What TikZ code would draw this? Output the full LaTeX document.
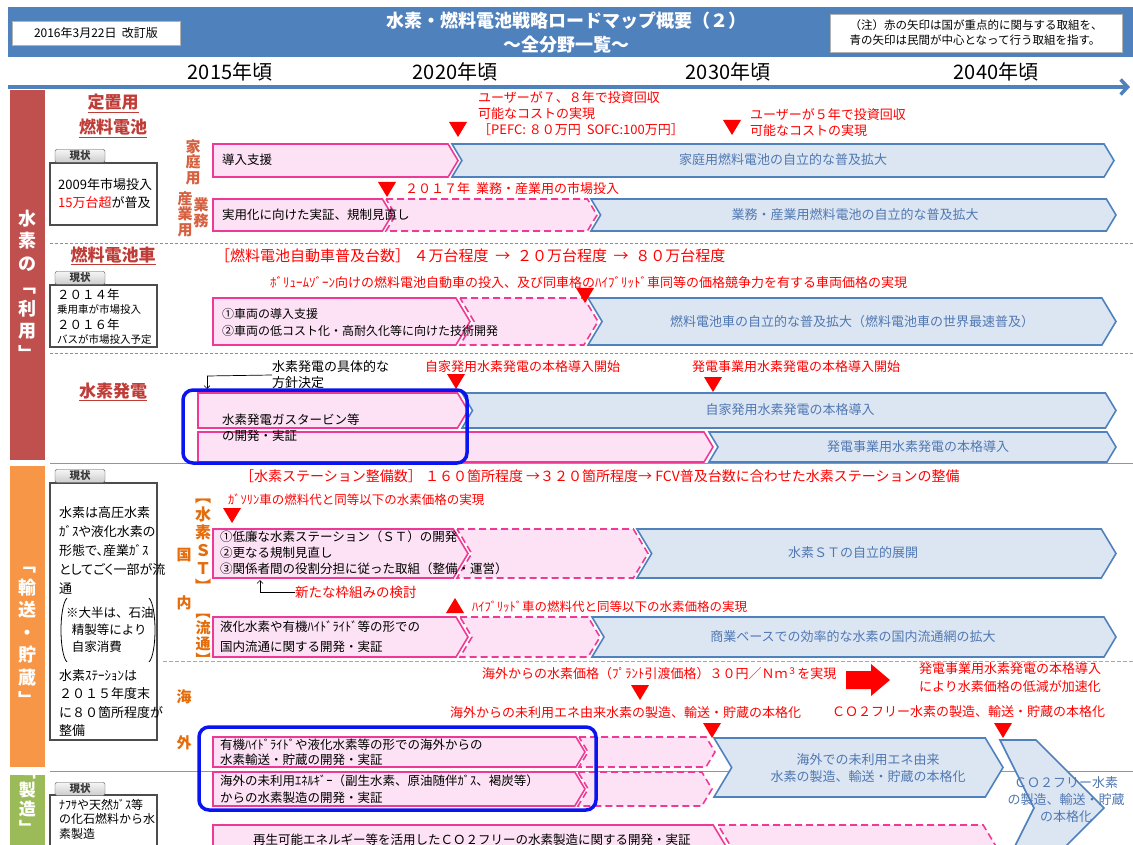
\documentclass[tikz,border=0pt]{standalone}
\usepackage{fontspec}
\setmainfont{Noto Sans CJK JP}
\usetikzlibrary{arrows.meta,calc,positioning}
\definecolor{hdrblue}{RGB}{79,129,189}
\definecolor{pinkbd}{RGB}{238,58,150}
\definecolor{pinkfill}{RGB}{252,226,244}
\definecolor{bluebd}{RGB}{79,129,189}
\definecolor{bluefill}{RGB}{220,230,242}
\definecolor{bluetext}{RGB}{80,120,178}
\definecolor{userred}{RGB}{192,80,77}
\definecolor{moveorange}{RGB}{247,150,70}
\definecolor{makegreen}{RGB}{155,187,89}
\definecolor{lblorange}{RGB}{228,108,10}
\definecolor{lblred}{RGB}{214,96,64}
\definecolor{titlered}{RGB}{192,60,55}
\definecolor{hlblue}{RGB}{10,20,240}
\newcommand{\chevflat}[5]{%
  \pgfmathsetmacro\chD{0.3*(#5-#4)}%
  \pgfmathsetmacro\chM{(#4+#5)/2}%
  \draw[#1] (#2,#4) -- ({#3-\chD},#4) -- (#3,\chM) -- ({#3-\chD},#5) -- (#2,#5) -- cycle;}
\newcommand{\chevnotch}[5]{%
  \pgfmathsetmacro\chD{0.3*(#5-#4)}%
  \pgfmathsetmacro\chM{(#4+#5)/2}%
  \draw[#1] (#2,#4) -- ({#3-\chD},#4) -- (#3,\chM) -- ({#3-\chD},#5) -- (#2,#5) -- ({#2+\chD},\chM) -- cycle;}
\newcommand{\downtri}[2]{\fill[red] ({#1-9},{#2-15}) -- ({#1+9},{#2-15}) -- (#1,#2) -- cycle;}
\tikzset{
  pinkbar/.style  = {draw=pinkbd, fill=pinkfill, line width=1.6pt},
  pinkdash/.style = {pinkbar, dash pattern=on 7pt off 4pt},
  bluebar/.style  = {draw=bluebd, fill=bluefill, line width=1.6pt},
  note/.style     = {text=red, font=\fontsize{13}{16}\selectfont, inner sep=0pt, anchor=west, align=left},
  body/.style     = {font=\fontsize{12.5}{16}\selectfont, inner sep=0pt, anchor=west, align=left},
  bluelbl/.style  = {text=bluetext, font=\fontsize{13}{17}\selectfont, inner sep=0pt, align=center},
  secttl/.style   = {text=titlered, font=\fontsize{17}{25}\selectfont\bfseries, inner sep=0pt, align=center},
  sidelbl/.style  = {text=lblorange, font=\fontsize{15}{15.5}\selectfont\bfseries, inner sep=0pt, align=center},
  barlbl/.style   = {text=white, font=\fontsize{18}{22.5}\selectfont\bfseries, inner sep=0pt, align=center},
  nowtab/.style   = {draw=gray!60!black, top color=gray!8, bottom color=gray!40, rounded corners=2pt,
                     minimum width=50pt, minimum height=13pt, inner sep=0pt, text=gray!45!black,
                     font=\fontsize{10.5}{12}\selectfont\bfseries},
  statbox/.style  = {draw=gray!60!black, line width=1.6pt, fill=white},
  hlbox/.style    = {draw=hlblue, line width=3.5pt, rounded corners=10pt},
  rowline/.style  = {draw=userred!75, line width=1pt},
  rdash/.style    = {draw=userred!80, line width=0.8pt, dash pattern=on 3pt off 2pt},
  odash/.style    = {draw=moveorange, line width=0.8pt, dash pattern=on 4pt off 2pt},
  year/.style     = {font=\fontsize{20}{22}\selectfont, inner sep=0pt},
}
\begin{document}
\begin{tikzpicture}[x=1pt,y=-1pt]
  \useasboundingbox (0,0) rectangle (1133,845);
  \clip (0,0) rectangle (1133,845);
  \fill[white] (0,0) rectangle (1133,845);

  \fill[hdrblue] (8,7) rectangle (1133,57);
  \node[draw=gray!60, fill=white, minimum width=168pt, minimum height=24pt,
        font=\fontsize{12}{14}\selectfont] (date) at (96,33) {2016年3月22日\ \ 改訂版};
  \node[text=white, font=\fontsize{18}{20}\selectfont\bfseries] (title) at (566,21) {水素・燃料電池戦略ロードマップ概要（２）};
  \node[text=white, font=\fontsize{18}{20}\selectfont\bfseries] (subtitle) at (566,45) {～全分野一覧～};
  \node[draw=gray!60, fill=white, minimum width=292pt, minimum height=38pt, align=left,
        font=\fontsize{11.5}{15}\selectfont] (legend) at (976,33)
        {（注）赤の矢印は国が重点的に関与する取組を、\\青の矢印は民間が中心となって行う取組を指す。};

  \node[year] (y2015) at (230,72) {2015年頃};
  \node[year] (y2020) at (455,72) {2020年頃};
  \node[year] (y2030) at (728,72) {2030年頃};
  \node[year] (y2040) at (996,72) {2040年頃};
  \coordinate (tl0) at (8,87);
  \coordinate (tl1) at (1130,87);
  \draw[hdrblue, line width=3.5pt, -{Straight Barb[length=7pt,width=15pt]}] (tl0) -- (tl1);

  \fill[userred] (10,90) rectangle (45,460);
  \fill[moveorange] (10,466) rectangle (45,767);
  \fill[makegreen] (10,775) rectangle (45,850);
  \node[barlbl] (use) at (27.5,285) {水\\素\\の\\﹁\\利\\用\\﹂};
  \node[barlbl] (move) at (27.5,637) {﹁\\輸\\送\\・\\貯\\蔵\\﹂};
  \node[barlbl, font=\fontsize{17}{19}\selectfont\bfseries] (make) at (27.5,804) {﹁\\製\\造\\﹂};

  \draw[rdash] (50,243) -- (1133,243);
  \draw[rdash] (50,353) -- (1133,353);
  \draw[rowline] (50,463) -- (1133,463);
  \draw[odash] (163,661) -- (1133,661);
  \draw[rowline] (50,771) -- (1133,771);

  % 定置用燃料電池
  \node[secttl] (stat) at (113,116) {\underline{定置用}\\\underline{燃料電池}};
  \draw[statbox] (50,163) rectangle (157,225);
  \node[nowtab] (tab1) at (80,156) {現状};
  \node[body, font=\fontsize{13}{18}\selectfont] (now1) at (58,194) {2009年市場投入\\\textcolor{red}{15万台超}が普及};
  \node[sidelbl, text=lblred] (home) at (193,162) {家\\庭\\用};
  \node[sidelbl, text=lblred] (ind) at (185,214) {産\\業\\用};
  \node[sidelbl, text=lblred] (biz) at (201,213) {業\\務};

  \chevflat{pinkbar}{213}{458}{144}{177}
  \chevnotch{bluebar}{452}{1114}{144}{177}
  \node[body] (homesup) at (222,160) {導入支援};
  \node[bluelbl] (homeown) at (783,160) {家庭用燃料電池の自立的な普及拡大};
  \downtri{458}{137}
  \node[note] (cost78) at (478,114) {ユーザーが７、８年で投資回収\\可能なコストの実現\\［PEFC: ８０万円\ \ SOFC:100万円］};
  \downtri{732}{135}
  \node[note] (cost5) at (750,123) {ユーザーが５年で投資回収\\可能なコストの実現};

  \downtri{387}{197}
  \node[note] (y2017) at (405,189) {２０１７年\ \ 業務・産業用の市場投入};
  \chevflat{pinkbar}{213}{392}{199}{231}
  \chevnotch{pinkdash}{386}{597}{199}{231}
  \chevnotch{bluebar}{591}{1116}{199}{231}
  \node[body] (bizdemo) at (222,215) {実用化に向けた実証、規制見直し};
  \node[bluelbl] (bizown) at (855,215) {業務・産業用燃料電池の自立的な普及拡大};

  % 燃料電池車
  \node[secttl] (fcv) at (113,256) {\underline{燃料電池車}};
  \node[note, font=\fontsize{15}{17}\selectfont] (fcvnum) at (215,256)
        {［燃料電池自動車普及台数］\ ４万台程度\ \ →\ \ ２０万台程度\ \ →\ \ ８０万台程度};
  \draw[statbox] (50,285) rectangle (157,347);
  \node[nowtab] (tab2) at (80,278) {現状};
  \node[body, font=\fontsize{12.5}{14}\selectfont] (now2a) at (57,295) {２０１４年};
  \node[body, font=\fontsize{10.5}{12}\selectfont] (now2b) at (57,310) {乗用車が市場投入};
  \node[body, font=\fontsize{12.5}{14}\selectfont] (now2c) at (57,325) {２０１６年};
  \node[body, font=\fontsize{10.5}{12}\selectfont] (now2d) at (57,340) {バスが市場投入予定};
  \node[note, font=\fontsize{13}{15}\selectfont] (volume) at (270,283)
        {ﾎﾞﾘｭｰﾑｿﾞｰﾝ向けの燃料電池自動車の投入、及び同車格のﾊｲﾌﾞﾘｯﾄﾞ車同等の価格競争力を有する車両価格の実現};
  \chevflat{pinkbar}{213}{470}{298}{345}
  \chevnotch{pinkdash}{460}{598}{298}{345}
  \chevnotch{bluebar}{588}{1116}{298}{345}
  \downtri{585}{303}
  \node[body, font=\fontsize{12}{17}\selectfont] (fcvdev) at (222,322) {①車両の導入支援\\②車両の低コスト化・高耐久化等に向けた技術開発};
  \node[bluelbl] (fcvown) at (852,322) {燃料電池車の自立的な普及拡大（燃料電池車の世界最速普及）};

  % 水素発電
  \node[secttl] (power) at (113,392) {\underline{水素発電}};
  \node[body, font=\fontsize{13}{16}\selectfont] (policy) at (272,375) {水素発電の具体的な\\方針決定};
  \coordinate (pl0) at (207,376);
  \coordinate (pl1) at (207,389);
  \draw[line width=0.7pt] (pl0) -- (policy.west);
  \draw[line width=0.7pt, -{Straight Barb[length=3pt]}] (pl0) -- (pl1);
  \node[note] (selfgen) at (425,367) {自家発用水素発電の本格導入開始};
  \downtri{456}{389}
  \node[note] (utilgen) at (692,367) {発電事業用水素発電の本格導入開始};
  \downtri{713}{392}
  \chevflat{pinkbar}{198}{468}{393}{428}
  \chevnotch{bluebar}{462}{1116}{393}{428}
  \chevflat{pinkbar}{198}{713}{432}{462}
  \chevnotch{bluebar}{709}{1116}{432}{462}
  \node[body] (gasturb) at (222,428) {水素発電ガスタービン等\\の開発・実証};
  \node[bluelbl] (selfown) at (790,410) {自家発用水素発電の本格導入};
  \node[bluelbl] (utilown) at (918,447) {発電事業用水素発電の本格導入};
  \draw[hlbox] (183,390) rectangle (467,463);

  % 輸送・貯蔵
  \node[note, font=\fontsize{14}{16}\selectfont] (stnum) at (240,476)
        {［水素ステーション整備数］\ １６０箇所程度\ →３２０箇所程度→\ FCV普及台数に合わせた水素ステーションの整備};
  \draw[statbox] (50,483) rectangle (157,740);
  \node[nowtab] (tab3) at (80,476) {現状};
  \node[body, font=\fontsize{13}{19}\selectfont\addfontfeature{RawFeature=+palt}] (now3a) at (59,550)
        {水素は高圧水素\\ｶﾞｽや液化水素の\\形態で、産業ｶﾞｽ\\としてごく一部が流\\通};
  \node[body, font=\fontsize{12.5}{17}\selectfont] (now3b) at (66,630) {※大半は、石油\\\ \ 精製等により\\\ \ 自家消費};
  \draw[line width=0.8pt] (67,598) .. controls (59,606) and (59,654) .. (67,662);
  \draw[line width=0.8pt] (149,598) .. controls (157,606) and (157,654) .. (149,662);
  \node[body, font=\fontsize{13}{18.5}\selectfont] (now3c) at (59,703) {水素ｽﾃｰｼｮﾝは\\２０１５年度末\\に８０箇所程度が\\整備};

  \node[sidelbl, font=\fontsize{16}{18}\selectfont\bfseries] (stlbl) at (203,546) {︻\\水\\素\\Ｓ\\Ｔ\\︼};
  \node[sidelbl] (koku) at (184,555) {国};
  \node[sidelbl] (nai) at (184,603) {内};
  \node[sidelbl, font=\fontsize{15}{16}\selectfont\bfseries] (rylbl) at (203,640) {︻\\流\\通\\︼};
  \node[sidelbl] (kai) at (184,697) {海};
  \node[sidelbl] (gai) at (184,743) {外};

  \node[note, font=\fontsize{12.5}{15}\selectfont] (gasprice) at (228,500) {ｶﾞｿﾘﾝ車の燃料代と同等以下の水素価格の実現};
  \downtri{232}{523}
  \chevflat{pinkbar}{213}{468}{529}{578}
  \chevnotch{pinkdash}{457}{648}{529}{578}
  \chevnotch{bluebar}{637}{1116}{529}{578}
  \node[body, font=\fontsize{12.5}{16}\selectfont] (stdev) at (220,553)
        {①低廉な水素ステーション（ＳＴ）の開発\\②更なる規制見直し\\③関係者間の役割分担に従った取組（整備・運営）};
  \node[bluelbl] (stown) at (853,553) {水素ＳＴの自立的展開};
  \node[note, font=\fontsize{13.5}{16}\selectfont] (newfw) at (295,592) {新たな枠組みの検討};
  \coordinate (nf0) at (260,592);
  \coordinate (nf1) at (260,580);
  \draw[line width=0.7pt] (newfw.west) -- (nf0);
  \draw[line width=0.7pt, -{Straight Barb[length=3pt]}] (nf0) -- (nf1);

  \fill[red] (446,613) -- (464,613) -- (455,598) -- cycle;
  \node[note, font=\fontsize{12.5}{15}\selectfont] (hvprice) at (472,607) {ﾊｲﾌﾞﾘｯﾄﾞ車の燃料代と同等以下の水素価格の実現};
  \chevflat{pinkbar}{213}{468}{617}{657}
  \chevnotch{pinkdash}{460}{600}{617}{657}
  \chevnotch{bluebar}{592}{1116}{617}{657}
  \node[body, font=\fontsize{12.5}{20}\selectfont] (rydev) at (220,637) {液化水素や有機ﾊｲﾄﾞﾗｲﾄﾞ等の形での\\国内流通に関する開発・実証};
  \node[bluelbl] (ryown) at (853,637) {商業ベースでの効率的な水素の国内流通網の拡大};

  \node[note] (plant) at (482,674) {海外からの水素価格（ﾌﾟﾗﾝﾄ引渡価格）３０円／Ｎｍ\textsuperscript{３}を実現};
  \downtri{640}{700}
  \fill[red] (846,671) -- (871,671) -- (871,664) -- (890,680) -- (871,696) -- (871,689) -- (846,689) -- cycle;
  \node[note, anchor=center, align=center, font=\fontsize{13}{18}\selectfont] (accel) at (1010,678)
        {発電事業用水素発電の本格導入\\により水素価格の低減が加速化};
  \node[note] (unused) at (450,713) {海外からの未利用エネ由来水素の製造、輸送・貯蔵の本格化};
  \downtri{712}{738}
  \node[note] (cofree) at (832,712) {ＣＯ２フリー水素の製造、輸送・貯蔵の本格化};
  \downtri{1003}{738}

  \chevflat{pinkbar}{213}{585}{737}{767}
  \chevnotch{pinkdash}{579}{715}{737}{767}
  \chevflat{pinkbar}{213}{585}{772}{806}
  \chevnotch{pinkdash}{578}{712}{772}{806}
  \node[body, font=\fontsize{12.5}{15}\selectfont] (ovtrans) at (220,752) {有機ﾊｲﾄﾞﾗｲﾄﾞや液化水素等の形での海外からの\\水素輸送・貯蔵の開発・実証};
  \node[body, font=\fontsize{12.5}{17}\selectfont] (ovmake) at (220,789) {海外の未利用ｴﾈﾙｷﾞｰ（副生水素、原油随伴ｶﾞｽ、褐炭等）\\からの水素製造の開発・実証};
  \chevnotch{bluebar}{714}{1003}{738}{797}
  \node[bluelbl] (ovown) at (868,768) {海外での未利用エネ由来\\水素の製造、輸送・貯蔵の本格化};
  \draw[bluebar] (1000,740) -- (1036,740) -- (1104,808) -- (1036,876) -- (1000,876) -- (1034,808) -- cycle;
  \node[bluelbl] (coown) at (1066,800) {ＣＯ２フリー水素\\の製造、輸送・貯蔵\\の本格化};
  \draw[hlbox] (199,727) rectangle (596,810);

  % 製造
  \draw[statbox] (50,795) rectangle (157,850);
  \node[nowtab] (tab4) at (80,789) {現状};
  \node[body, font=\fontsize{12}{14.5}\selectfont] (now4) at (59,819) {ﾅﾌｻや天然ｶﾞｽ等\\の化石燃料から水\\素製造};
  \chevflat{pinkbar}{213}{727}{825}{871}
  \chevnotch{pinkdash}{718}{997}{825}{871}
  \node[body] (renew) at (253,840) {再生可能エネルギー等を活用したＣＯ２フリーの水素製造に関する開発・実証};
\end{tikzpicture}
\end{document}
